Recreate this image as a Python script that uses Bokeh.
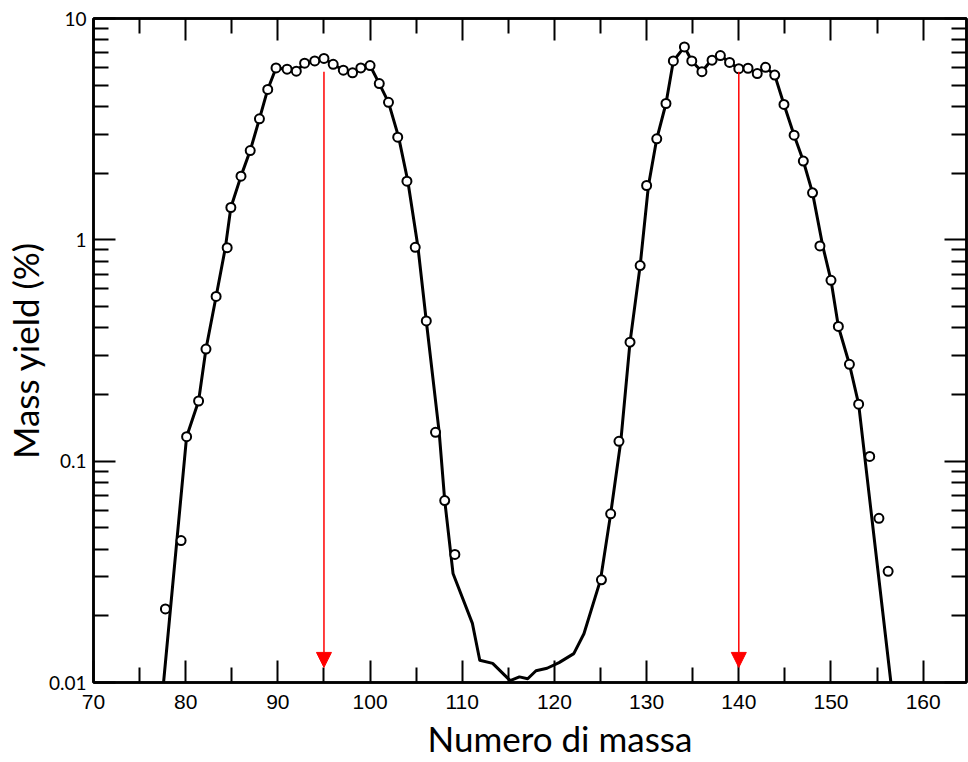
from bokeh.plotting import figure
from bokeh.models import (Range1d, FixedTicker, LinearAxis, LogAxis, CustomJSTickFormatter,
                          Arrow, NormalHead, Title, ColumnDataSource)
from bokeh.embed import file_html
from bokeh.resources import INLINE

# ---- data ----
line_mass = [77.6, 80.1, 81.4, 82.2, 83.3, 84.3, 84.9, 86.0, 87.0, 88.0, 88.9, 89.8, 91.0, 92.0,
             92.9, 94.0, 95.0, 96.0, 97.1, 98.1, 99.0, 100.0, 101.0, 102.0, 103.1, 104.1, 105.2,
             106.1, 107.5, 108.1, 109.0, 111.1, 111.9, 113.3, 115.2, 116.2, 117.1, 118.0, 119.2,
             120.5, 122.1, 123.2, 125.0, 126.1, 127.2, 128.2, 129.3, 130.2, 131.1, 132.1, 132.9,
             134.1, 134.9, 136.0, 137.0, 138.0, 139.0, 140.0, 141.0, 142.0, 142.9, 143.9, 144.9,
             146.0, 147.0, 148.0, 149.1, 150.0, 150.8, 152.0, 153.0, 156.5]
line_yield = [0.010, 0.129, 0.187, 0.321, 0.555, 0.92, 1.40, 1.94, 2.53, 3.52, 4.78, 5.98, 5.90, 5.78,
              6.28, 6.43, 6.60, 6.21, 5.84, 5.68, 5.98, 6.13, 5.08, 4.18, 2.91, 1.84, 0.925,
              0.43, 0.135, 0.0664, 0.0311, 0.0185, 0.0126, 0.0122, 0.0102, 0.0106, 0.0104, 0.0113, 0.0116,
              0.0123, 0.0135, 0.0166, 0.0291, 0.0578, 0.123, 0.345, 0.765, 1.76, 2.86, 4.13, 6.43,
              7.44, 6.43, 5.75, 6.48, 6.80, 6.33, 5.93, 5.96, 5.64, 6.02, 5.55, 4.09,
              2.97, 2.27, 1.63, 0.94, 0.656, 0.406, 0.274, 0.181, 0.010]

pt_mass = [77.8, 79.5, 80.1, 81.4, 82.2, 83.3, 84.5, 84.9, 86.0, 87.0, 88.0, 88.9, 89.8, 91.0,
           92.0, 92.9, 94.0, 95.0, 96.0, 97.1, 98.1, 99.0, 100.0, 101.0, 102.0, 103.0, 104.0,
           104.9, 106.1, 107.1, 108.1, 109.2,
           125.1, 126.1, 127.0, 128.2, 129.3, 130.0, 131.1, 132.1, 132.9, 134.1, 134.9, 136.0,
           137.1, 138.0, 139.0, 140.0, 141.0, 142.0, 142.9, 143.9, 144.9, 146.0, 147.0, 148.0,
           148.8, 150.0, 150.8, 152.0, 153.0, 154.2, 155.2, 156.2]
pt_yield = [0.0215, 0.0438, 0.129, 0.187, 0.321, 0.555, 0.922, 1.40, 1.94, 2.53, 3.52, 4.78, 5.98, 5.90,
            5.78, 6.28, 6.43, 6.60, 6.21, 5.84, 5.68, 5.98, 6.13, 5.08, 4.18, 2.91, 1.84,
            0.925, 0.43, 0.135, 0.0664, 0.0379,
            0.0291, 0.0578, 0.123, 0.345, 0.765, 1.76, 2.86, 4.13, 6.43, 7.44, 6.43, 5.75,
            6.48, 6.80, 6.33, 5.93, 5.96, 5.64, 6.02, 5.55, 4.09, 2.97, 2.27, 1.63,
            0.938, 0.656, 0.406, 0.274, 0.181, 0.105, 0.0552, 0.0318]

arrow_mass = [95, 140]
arrow_top = [5.74, 5.74]
arrow_tip = [0.0117, 0.0117]

x_ticks = [70, 80, 90, 100, 110, 120, 130, 140, 150, 160]
x_minor = [75, 85, 95, 105, 115, 125, 135, 145, 155]
y_ticks = [0.01, 0.1, 1, 10]
y_labels = ["0.01", "0.1", "1", "10"]
y_minor = [m * d for d in (0.01, 0.1, 1) for m in range(2, 10)]

x_title = "Numero di massa"
y_title = "Mass yield (%)"

# ---- figure ----
p = figure(width=968, height=762, x_range=Range1d(70, 164.7), y_range=Range1d(0.01, 10),
           y_axis_type="log", output_backend="svg", toolbar_location=None,
           min_border_left=91, min_border_right=2, min_border_top=18, min_border_bottom=80)
p.xgrid.visible = False
p.ygrid.visible = False
p.outline_line_color = "black"
p.outline_line_width = 2.5
p.background_fill_color = "white"
p.border_fill_color = "white"

p.line(line_mass, line_yield, line_color="black", line_width=3, line_join="round")
p.scatter(pt_mass, pt_yield, marker="circle", size=9, fill_color="white",
          line_color="black", line_width=2)

src = ColumnDataSource(dict(x=arrow_mass, y0=arrow_top, y1=arrow_tip))
p.add_layout(Arrow(source=src, x_start="x", y_start="y0", x_end="x", y_end="y1",
                   line_color="#ff0000", line_width=1.5,
                   end=NormalHead(size=15, fill_color="#ff0000", line_color="#ff0000", line_width=1)))

blank = CustomJSTickFormatter(code="return ''")
ylab = CustomJSTickFormatter(args=dict(tv=y_ticks, tl=y_labels), code="""
    for (let i = 0; i < tv.length; i++) { if (Math.abs(tv[i] - tick) < 1e-9 * Math.max(1, tv[i])) return tl[i]; }
    return '';
""")

def style(ax):
    ax.axis_line_width = 2.5
    ax.axis_line_color = "black"
    ax.major_tick_in = 22
    ax.major_tick_out = 0
    ax.minor_tick_in = 15
    ax.minor_tick_out = 0
    ax.major_tick_line_width = 2
    ax.minor_tick_line_width = 2
    ax.major_tick_line_color = "black"
    ax.minor_tick_line_color = "black"

xb = p.xaxis[0]
xb.ticker = FixedTicker(ticks=x_ticks, minor_ticks=x_minor)
style(xb)
xb.major_label_standoff = 12
xb.major_label_text_font = "Liberation Sans"
xb.major_label_text_font_size = "21px"
xb.major_label_text_color = "black"

yl = p.yaxis[0]
yl.ticker = FixedTicker(ticks=y_ticks, minor_ticks=y_minor)
yl.formatter = ylab
style(yl)
yl.major_label_standoff = 7
yl.major_label_text_font = "Lato"
yl.major_label_text_font_size = "19px"
yl.major_label_text_color = "black"
yl.axis_label = y_title
yl.axis_label_text_font = "Lato"
yl.axis_label_text_font_size = "35px"
yl.axis_label_text_font_style = "normal"
yl.axis_label_text_color = "black"
yl.axis_label_standoff = 0

xt = LinearAxis(ticker=FixedTicker(ticks=x_ticks, minor_ticks=x_minor), formatter=blank)
style(xt)
xt.major_label_standoff = 0
xt.major_label_text_font_size = "0px"
p.add_layout(xt, "above")

yr = LogAxis(ticker=FixedTicker(ticks=y_ticks, minor_ticks=y_minor), formatter=blank)
style(yr)
yr.major_label_standoff = 0
yr.major_label_text_font_size = "0px"
p.add_layout(yr, "right")

p.add_layout(Title(text=x_title, align="left", offset=334, standoff=6,
                   text_font="Lato", text_font_size="35px", text_font_style="normal",
                   text_color="black"), "below")

open("out.html", "w").write(file_html(p, INLINE))
